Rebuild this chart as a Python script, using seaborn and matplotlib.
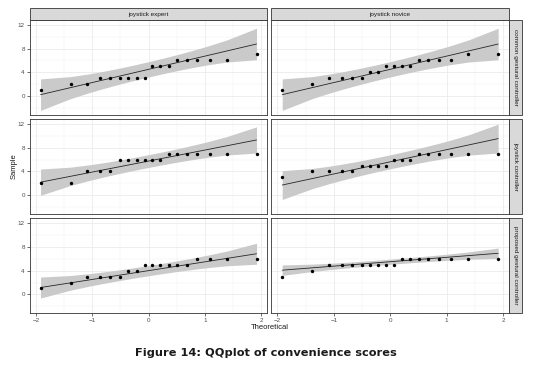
import numpy as np
import pandas as pd
import matplotlib
matplotlib.use("Agg")
import matplotlib.pyplot as plt
import seaborn as sns
from matplotlib.patches import Rectangle
from statistics import NormalDist

# ---- data (sample scores) ----
controllers = ["common gestural controller", "joystick controller", "proposed gestural controller"]
groups = ["joystick expert", "joystick novice"]

common_expert = [1, 2, 2, 3, 3, 3, 3, 3, 3, 5, 5, 5, 6, 6, 6, 6, 6, 7]
common_novice = [1, 2, 3, 3, 3, 3, 4, 4, 5, 5, 5, 5, 6, 6, 6, 6, 7, 7]
joystick_expert = [2, 2, 4, 4, 4, 6, 6, 6, 6, 6, 6, 7, 7, 7, 7, 7, 7, 7]
joystick_novice = [3, 4, 4, 4, 4, 5, 5, 5, 5, 6, 6, 6, 7, 7, 7, 7, 7, 7]
proposed_expert = [1, 2, 3, 3, 3, 3, 4, 4, 5, 5, 5, 5, 5, 5, 6, 6, 6, 6]
proposed_novice = [3, 4, 5, 5, 5, 5, 5, 5, 5, 5, 6, 6, 6, 6, 6, 6, 6, 6]

x_ticks = [-2, -1, 0, 1, 2]
y_ticks = [0, 4, 8, 12]

series = [
    (controllers[0], groups[0], common_expert),
    (controllers[0], groups[1], common_novice),
    (controllers[1], groups[0], joystick_expert),
    (controllers[1], groups[1], joystick_novice),
    (controllers[2], groups[0], proposed_expert),
    (controllers[2], groups[1], proposed_novice),
]

# ---- QQ transform (theoretical quantiles, qq line, pointwise 95% band) ----
nd = NormalDist()
frames = []
for ctrl, grp, vals in series:
    s = np.sort(np.asarray(vals, dtype=float))
    n = len(s)
    p = (np.arange(1, n + 1) - 0.5) / n
    z = np.array([nd.inv_cdf(pi) for pi in p])
    q1, q3 = np.quantile(s, [0.25, 0.75])
    z1, z3 = nd.inv_cdf(0.25), nd.inv_cdf(0.75)
    slope = (q3 - q1) / (z3 - z1)
    inter = q1 - slope * z1
    fit = inter + slope * z
    dens = np.array([nd.pdf(zi) for zi in z])
    se = slope / dens * np.sqrt(p * (1 - p) / n)
    frames.append(pd.DataFrame({
        "controller": ctrl, "group": grp, "sample": s, "theoretical": z,
        "fitted": fit, "lower": fit - 1.96 * se, "upper": fit + 1.96 * se,
    }))
df = pd.concat(frames, ignore_index=True)

sns.set_theme(style="white")
plt.rcParams['font.family'] = ['Liberation Sans', 'DejaVu Sans']

g = sns.FacetGrid(df, row="controller", col="group", row_order=controllers,
                  col_order=groups, sharex=True, sharey=True, despine=False,
                  height=1.2, aspect=2.0)


def draw(data, **kws):
    ax = plt.gca()
    ax.fill_between(data["theoretical"], data["lower"], data["upper"],
                    color="#CACACA", lw=0, zorder=1)
    sns.lineplot(data=data, x="theoretical", y="fitted", ax=ax,
                 color="#262626", lw=0.6, zorder=2)
    sns.scatterplot(data=data, x="theoretical", y="sample", ax=ax,
                    color="black", s=6, linewidth=0, zorder=3)


g.map_dataframe(draw)

fig = g.figure
fig.set_size_inches(5.37, 3.68)
fig.set_dpi(100)
fig.patch.set_facecolor("white")
fig.subplots_adjust(left=0.0553, right=0.9479, top=0.9457, bottom=0.1495,
                    wspace=0.0168, hspace=0.0475)

g.set_titles("")
g.set_axis_labels("", "")

for i, ctrl in enumerate(controllers):
    for j, grp in enumerate(groups):
        ax = g.axes[i, j]
        ax.set_title("")
        ax.set_xlim(-2.107, 2.107)
        ax.set_ylim(-3.12, 12.8)
        ax.set_xticks(x_ticks)
        ax.set_xticks([-1.5, -0.5, 0.5, 1.5], minor=True)
        ax.set_yticks(y_ticks)
        ax.set_yticks([-2, 2, 6, 10], minor=True)
        ax.set_facecolor("white")
        ax.grid(which="major", color="#EBEBEB", lw=0.6)
        ax.grid(which="minor", color="#F2F2F2", lw=0.35)
        ax.set_axisbelow(True)
        for sp in ax.spines.values():
            sp.set_color("#333333")
            sp.set_linewidth(0.6)
        ax.tick_params(which="major", length=2, width=0.5, color="#333333",
                       labelsize=4.5, labelcolor="#4D4D4D", pad=1.5,
                       bottom=(i == 2), left=(j == 0))
        ax.tick_params(which="minor", length=0)
        if i == 0:
            ax.add_patch(Rectangle((0, 1), 1, 0.1235, transform=ax.transAxes,
                                   fc="#D9D9D9", ec="#333333", lw=0.6,
                                   clip_on=False, zorder=5))
            ax.text(0.5, 1.0618, grp, transform=ax.transAxes, ha="center",
                    va="center", fontsize=4.6, color="#1A1A1A", zorder=6)
        if j == 1:
            ax.add_patch(Rectangle((1, 0), 0.0535, 1, transform=ax.transAxes,
                                   fc="#D9D9D9", ec="#333333", lw=0.6,
                                   clip_on=False, zorder=5))
            ax.text(1.0268, 0.5, ctrl, transform=ax.transAxes, ha="center",
                    va="center", rotation=-90, fontsize=4.6, color="#1A1A1A",
                    zorder=6)

fig.text(0.026, 0.5476, "Sample", rotation=90, ha="center", va="center",
         fontsize=5.5, color="#1A1A1A")
fig.text(0.5016, 0.111, "Theoretical", ha="center", va="center",
         fontsize=5.5, color="#1A1A1A")
fig.text(0.496, 0.042, "Figure 14: QQplot of convenience scores", ha="center",
         va="center", fontsize=8.2, fontweight="bold", family="DejaVu Sans",
         color="#1A1A1A")

fig.savefig("out.png", dpi=100, facecolor="white")
